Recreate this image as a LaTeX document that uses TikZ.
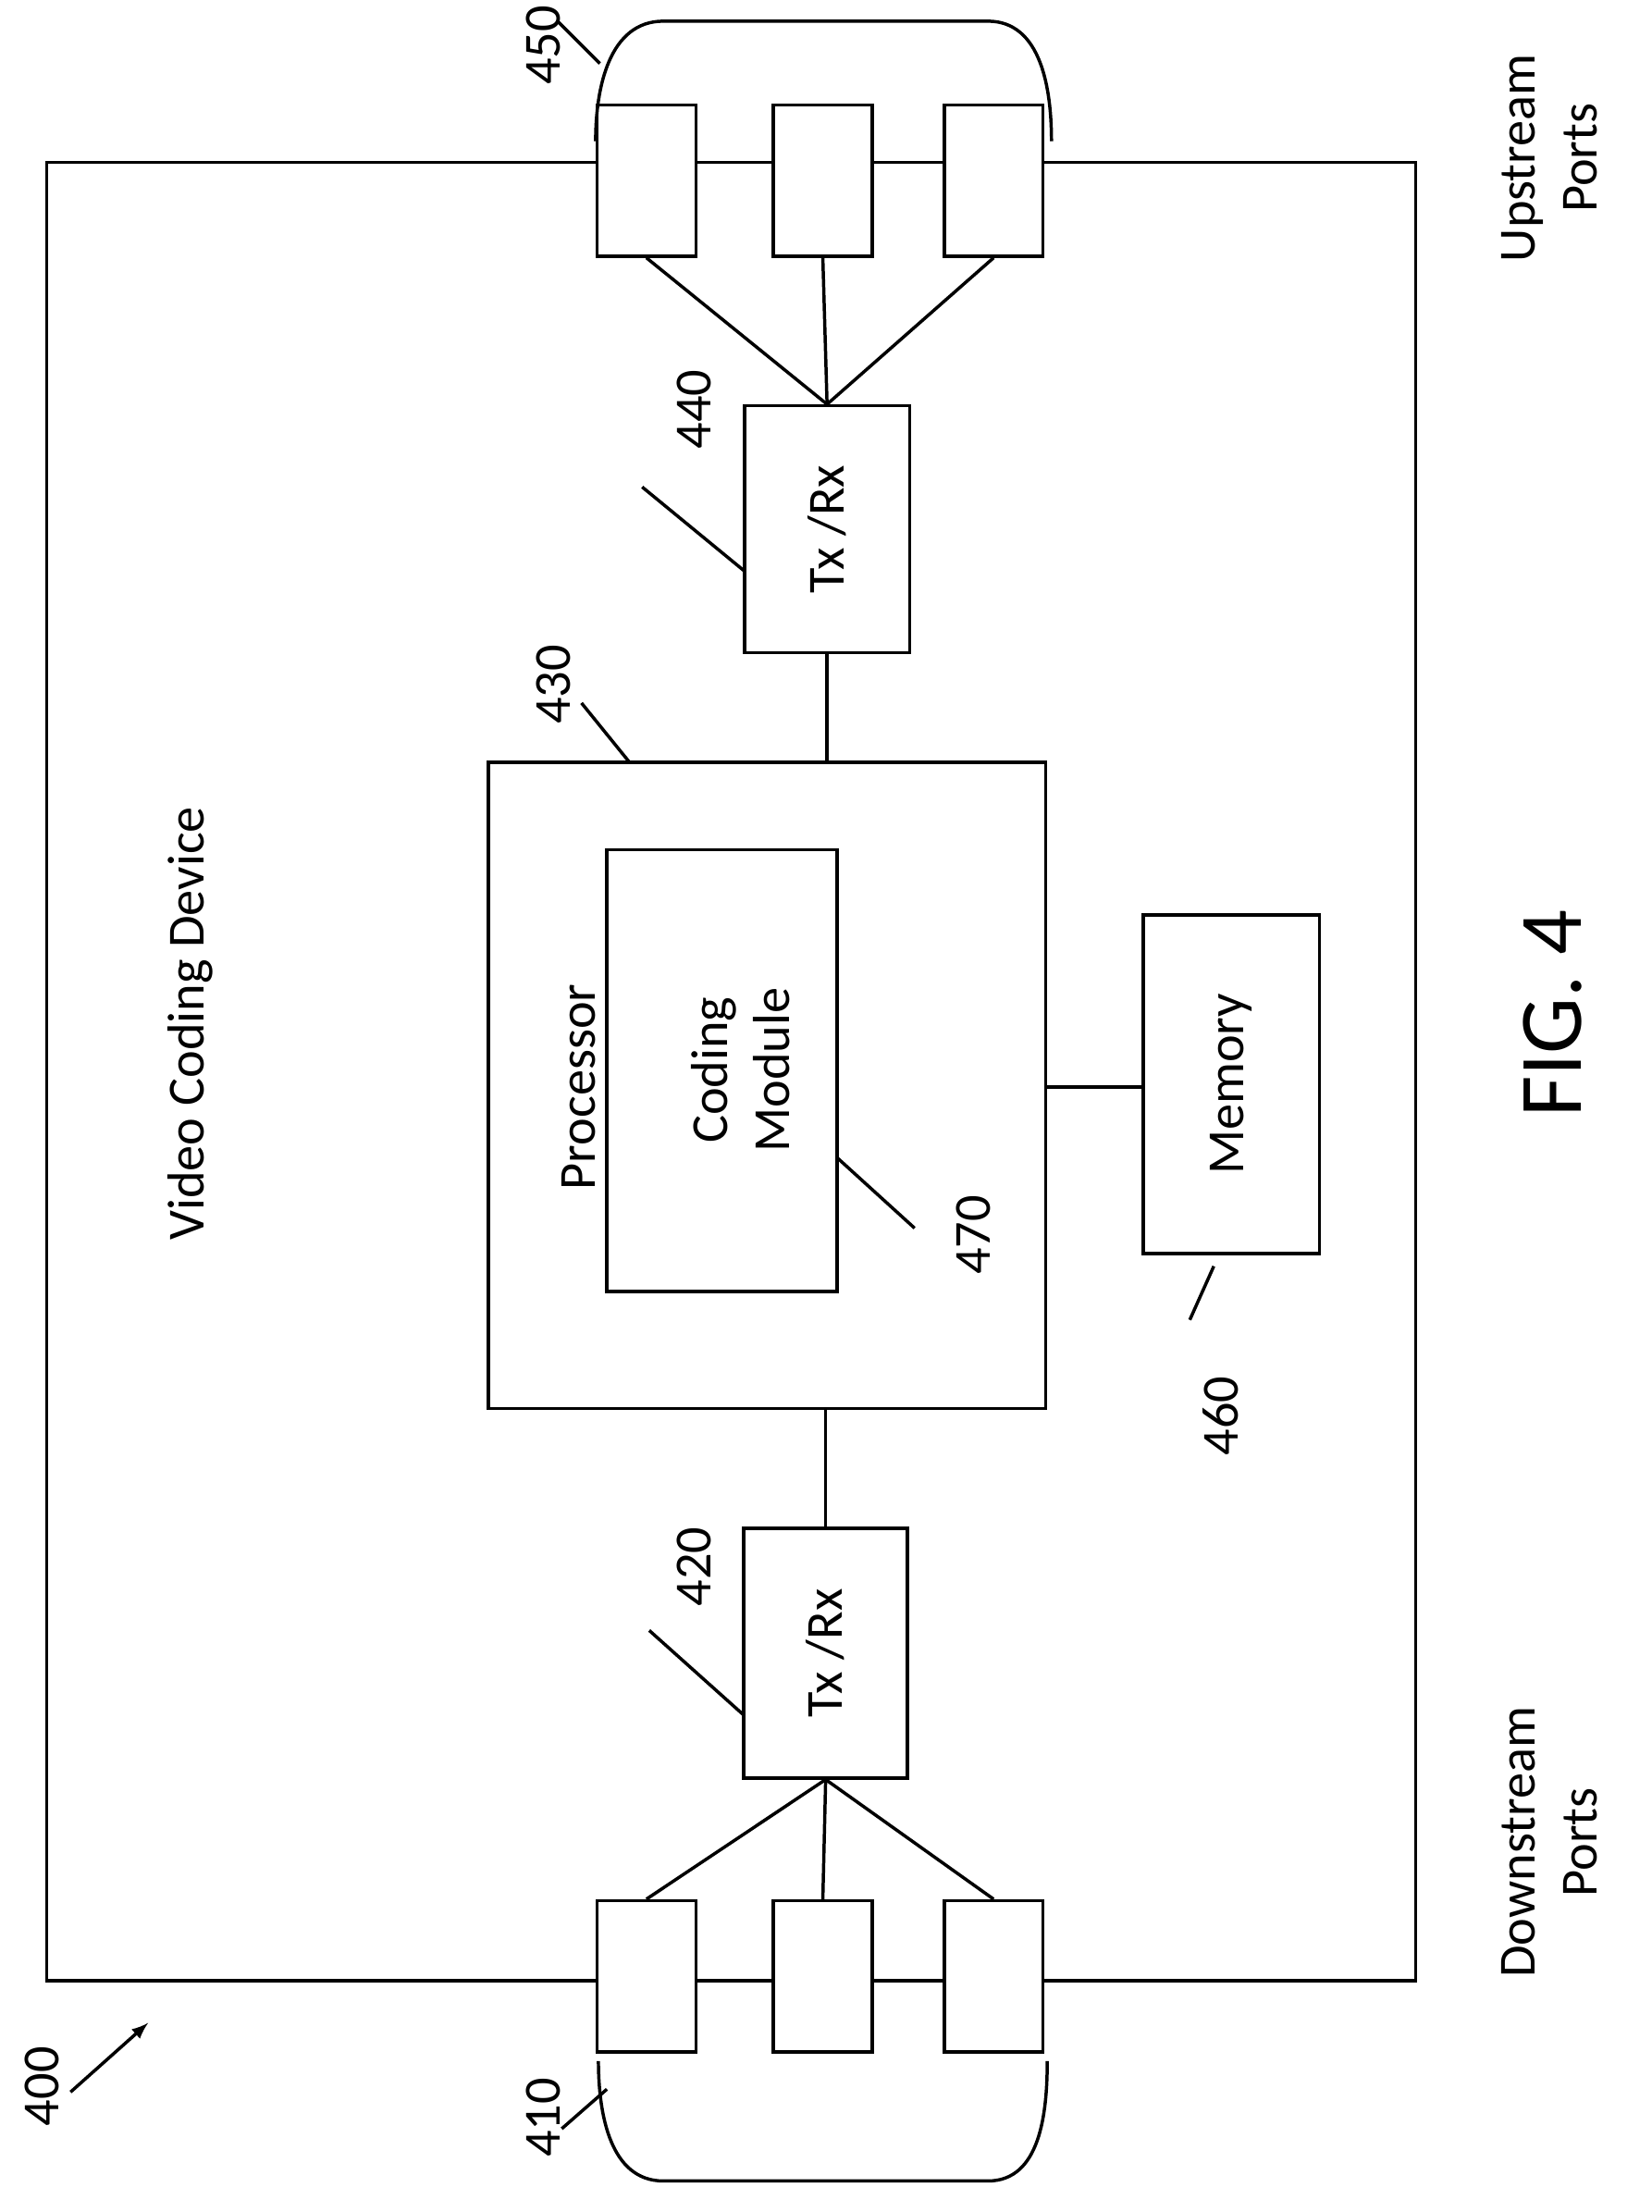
\documentclass[tikz,border=0pt]{standalone}
\usepackage{fontspec}
\setmainfont{Carlito}
\begin{document}
\begin{tikzpicture}[x=0.02cm,y=-0.02cm,line width=1.3pt,
  box/.style={draw,rectangle,inner sep=0pt},
  lbl/.style={rotate=90,font=\fontsize{21}{25}\selectfont},
  port/.style={box,minimum width=1.4cm,minimum height=2.14cm}]
\useasboundingbox (0,0) rectangle (1170,1567);

%% outer device
\draw (33,115) rectangle (1003,1403);
\node[lbl] (dev) at (135,725) {Video Coding Device};

%% ports
\foreach \n/\x in {a/458,b/583,c/704}{
  \node[port,fill=white] (up\n) at (\x,128) {};
  \node[port,fill=white] (dn\n) at (\x,1400) {};
}
\draw (422,100) to[out=90,in=180] (470,15) -- (700,15) to[out=0,in=90] (745,100); % upper brace
\draw (424,1460) to[out=-90,in=180] (470,1545) -- (700,1545) to[out=0,in=-90] (742,1460); % lower brace

%% transceivers
\node[box,minimum width=2.34cm,minimum height=3.5cm] (txu) at (586,375) {};
\node[lbl] at (txu) {Tx /Rx};
\node[box,minimum width=2.32cm,minimum height=3.54cm] (txd) at (585,1171) {};
\node[lbl] at (txd) {Tx /Rx};
\foreach \n in {a,b,c}{
  \draw (txu.north) -- (up\n.south);
  \draw (txd.south) -- (dn\n.north);
}

%% processor, module, memory
\node[box,minimum width=7.9cm,minimum height=9.16cm] (proc) at (543.5,769) {};
\node[box,minimum width=3.26cm,minimum height=6.26cm] (mod) at (511.5,758.5) {};
\node[lbl,align=center] (modt) at (525,758) {Coding\\Module};
\node[lbl] (proct) at (410,770) {Processor};
\node[box,minimum width=2.5cm,minimum height=4.8cm] (mem) at (872.5,768) {};
\node[lbl] (memt) at (872,768) {Memory};
\draw (txu.south) -- (txu.south |- proc.north);
\draw (txd.north) -- (txd.north |- proc.south);
\draw (proc.east |- 0,770) -- (mem.west |- 0,770);

%% reference numerals
\node[lbl] (n450) at (385,32) {450};
\draw (395,15) -- (425,45);
\node[lbl] (n410) at (385,1500) {410};
\draw (398,1508) -- (430,1480);
\node[lbl] (n440) at (492,290) {440};
\draw (455,345) -- (528,405);
\node[lbl] (n420) at (492,1110) {420};
\draw (460,1155) -- (527,1215);
\node[lbl] (n430) at (392,485) {430};
\draw (412,498) -- (446,540);
\node[lbl] (n470) at (690,875) {470};
\draw (593,820) -- (648,870);
\node[lbl] (n460) at (865,1003) {460};
\draw (860,897) -- (843,935);
\node[lbl] (n400) at (30,1478) {400};
\draw[->,>=latex] (50,1482) -- (105,1433);

%% side labels
\node[lbl,align=center] (ups) at (1098,112) {Upstream\\Ports};
\node[lbl,align=center] (dns) at (1098,1305) {Downstream\\Ports};
\node[rotate=90,font=\fontsize{36}{40}\selectfont] (fig) at (1100,718) {FIG. 4};
\end{tikzpicture}
\end{document}
